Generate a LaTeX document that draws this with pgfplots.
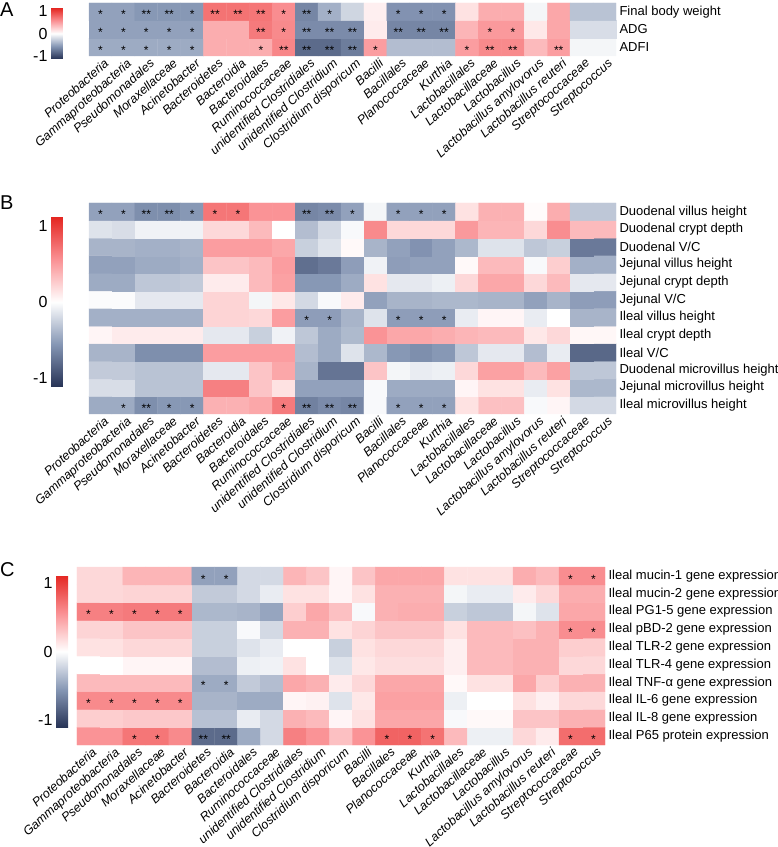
\documentclass[border=0pt]{standalone}
\usepackage{pgfplots}
\pgfplotsset{compat=1.18}
\usepackage{fontspec}
\setmainfont{Liberation Sans}
\usetikzlibrary{calc}
\pgfplotsset{
 colorbar shift/.style={xshift=0pt},
 colormap={hm}{rgb255=(38,50,85) rgb255=(133,150,180) rgb255=(255,255,255) rgb255=(250,145,148) rgb255=(228,38,33)},
 hmaxis/.style={scale only axis, width=527pt, xmin=-0.5, xmax=22.5,
   axis line style={draw=none}, tick style={draw=none}, major tick length=0pt,
   xtick={0,...,22},
   xticklabels={Proteobacteria,Gammaproteobacteria,Pseudomonadales,Moraxellaceae,Acinetobacter,Bacteroidetes,Bacteroidia,Bacteroidales,Ruminococcaceae,unidentified Clostridiales,unidentified Clostridium,Clostridium disporicum,Bacilli,Bacillales,Planococcaceae,Kurthia,Lactobacillales,Lactobacillaceae,Lactobacillus,Lactobacillus amylovorus,Lactobacillus reuteri,Streptococcaceae,Streptococcus},
   xticklabel style={font=\fontsize{12.5}{13}\selectfont\itshape, rotate=42, anchor=north east, inner sep=1pt, xshift=2pt, yshift=-2pt},
   yticklabel pos=right,
   yticklabel style={font=\fontsize{13}{14}\selectfont, anchor=west},
   colormap name=hm, point meta min=-1.12, point meta max=1.12, clip=false},
 cb/.style={scale only axis, width=12pt, anchor=south west,
   ytick={-1,0,1}, yticklabels={-1,0,1}, yticklabel pos=left,
   axis line style={draw=none}, tick style={draw=none}, major tick length=0pt,
   yticklabel style={font=\fontsize{16}{16}\selectfont}},
 hm/.style={matrix plot*, mesh/cols=23, point meta=explicit},
 stars/.style={only marks, mark=none, nodes near coords, point meta=explicit symbolic,
   nodes near coords style={anchor=center, font=\fontsize{12}{12}\selectfont, yshift=-3pt, inner sep=0pt}}
}
\begin{document}
\begin{tikzpicture}
\useasboundingbox (0,0) rectangle (778pt,847pt);
\node[anchor=base west, font=\fontsize{20}{20}\selectfont, inner sep=0pt] at (0pt,830pt) {A};
\node[anchor=base west, font=\fontsize{20}{20}\selectfont, inner sep=0pt] at (0pt,637pt) {B};
\node[anchor=base west, font=\fontsize{20}{20}\selectfont, inner sep=0pt] at (0pt,270pt) {C};

% ---------------- Panel A
\begin{axis}[hmaxis, height=53pt, at={(89pt,791pt)}, anchor=south west,
  ymin=-0.5, ymax=2.5, ytick={0,1,2}, yticklabels={ADFI,ADG,Final body weight},
  colorbar, colorbar style={cb, height=51pt, at={($(parent axis.south west)+(-38pt,-3pt)$)}}]
\addplot[hm] coordinates {
(0,0)[-0.45] (1,0)[-0.45] (2,0)[-0.45] (3,0)[-0.45] (4,0)[-0.45] (5,0)[0.42] (6,0)[0.42] (7,0)[0.42] (8,0)[0.62] (9,0)[-0.8] (10,0)[-0.8] (11,0)[-0.7] (12,0)[0.5] (13,0)[-0.35] (14,0)[-0.35] (15,0)[-0.35] (16,0)[0.5] (17,0)[0.6] (18,0)[0.6] (19,0)[0.35] (20,0)[0.5] (21,0)[-0.05] (22,0)[-0.05]
(0,1)[-0.5] (1,1)[-0.5] (2,1)[-0.5] (3,1)[-0.5] (4,1)[-0.5] (5,1)[0.42] (6,1)[0.42] (7,1)[0.68] (8,1)[0.6] (9,1)[-0.62] (10,1)[-0.62] (11,1)[-0.62] (12,1)[0.1] (13,1)[-0.65] (14,1)[-0.65] (15,1)[-0.65] (16,1)[0.38] (17,1)[0.52] (18,1)[0.52] (19,1)[0.12] (20,1)[0.45] (21,1)[-0.18] (22,1)[-0.18]
(0,2)[-0.5] (1,2)[-0.5] (2,2)[-0.55] (3,2)[-0.55] (4,2)[-0.55] (5,2)[0.72] (6,2)[0.72] (7,2)[0.7] (8,2)[0.58] (9,2)[-0.65] (10,2)[-0.42] (11,2)[-0.22] (12,2)[0.08] (13,2)[-0.58] (14,2)[-0.58] (15,2)[-0.58] (16,2)[0.15] (17,2)[0.42] (18,2)[0.42] (19,2)[-0.05] (20,2)[0.45] (21,2)[-0.32] (22,2)[-0.32]
};
\addplot[stars] coordinates {
(0,2)[*] (1,2)[*] (2,2)[**] (3,2)[**] (4,2)[*] (5,2)[**] (6,2)[**] (7,2)[**] (8,2)[*] (9,2)[**] (10,2)[*] (13,2)[*] (14,2)[*] (15,2)[*]
(0,1)[*] (1,1)[*] (2,1)[*] (3,1)[*] (4,1)[*] (7,1)[**] (8,1)[*] (9,1)[**] (10,1)[**] (11,1)[**] (13,1)[**] (14,1)[**] (15,1)[**] (17,1)[*] (18,1)[*]
(0,0)[*] (1,0)[*] (2,0)[*] (3,0)[*] (4,0)[*] (7,0)[*] (8,0)[**] (9,0)[**] (10,0)[**] (11,0)[**] (12,0)[*] (16,0)[*] (17,0)[**] (18,0)[**] (20,0)[**]
};
\end{axis}

% ---------------- Panel B
\begin{axis}[hmaxis, height=211pt, at={(89pt,433pt)}, anchor=south west,
  ymin=-0.5, ymax=11.5, ytick={0,...,11},
  yticklabels={Ileal microvillus height,Jejunal microvillus height,Duodenal microvillus height,Ileal V/C,Ileal crypt depth,Ileal villus height,Jejunal V/C,Jejunal crypt depth,Jejunal villus height,Duodenal V/C,Duodenal crypt depth,Duodenal villus height},
  colorbar, colorbar style={cb, height=170pt, at={($(parent axis.south west)+(-38pt,27pt)$)}}]
\addplot[hm] coordinates {
(0,0)[-0.45] (1,0)[-0.45] (2,0)[-0.6] (3,0)[-0.55] (4,0)[-0.55] (5,0)[0.4] (6,0)[0.4] (7,0)[0.45] (8,0)[0.68] (9,0)[-0.68] (10,0)[-0.62] (11,0)[-0.65] (12,0)[-0.03] (13,0)[-0.5] (14,0)[-0.5] (15,0)[-0.5] (16,0)[0.15] (17,0)[0.32] (18,0)[0.32] (19,0)[-0.03] (20,0)[0.05] (21,0)[-0.2] (22,0)[-0.2]
(0,1)[-0.18] (1,1)[-0.18] (2,1)[-0.32] (3,1)[-0.32] (4,1)[-0.32] (5,1)[0.65] (6,1)[0.65] (7,1)[0.3] (8,1)[0.15] (9,1)[-0.5] (10,1)[-0.5] (11,1)[-0.5] (12,1)[-0.03] (13,1)[-0.45] (14,1)[-0.45] (15,1)[-0.45] (16,1)[0.05] (17,1)[0.15] (18,1)[0.15] (19,1)[-0.1] (20,1)[0.15] (21,1)[-0.38] (22,1)[-0.38]
(0,2)[-0.28] (1,2)[-0.28] (2,2)[-0.32] (3,2)[-0.32] (4,2)[-0.32] (5,2)[-0.12] (6,2)[-0.12] (7,2)[0.3] (8,2)[0.45] (9,2)[-0.4] (10,2)[-0.75] (11,2)[-0.75] (12,2)[0.3] (13,2)[-0.05] (14,2)[-0.1] (15,2)[-0.08] (16,2)[0.2] (17,2)[0.48] (18,2)[0.48] (19,2)[0.35] (20,2)[0.48] (21,2)[-0.3] (22,2)[-0.3]
(0,3)[-0.4] (1,3)[-0.4] (2,3)[-0.6] (3,3)[-0.6] (4,3)[-0.6] (5,3)[0.5] (6,3)[0.5] (7,3)[0.5] (8,3)[0.5] (9,3)[-0.35] (10,3)[-0.45] (11,3)[-0.15] (12,3)[-0.38] (13,3)[-0.55] (14,3)[-0.6] (15,3)[-0.55] (16,3)[-0.3] (17,3)[-0.12] (18,3)[-0.12] (19,3)[-0.35] (20,3)[-0.1] (21,3)[-0.82] (22,3)[-0.82]
(0,4)[0.05] (1,4)[0.1] (2,4)[0.1] (3,4)[0.1] (4,4)[0.1] (5,4)[-0.12] (6,4)[-0.12] (7,4)[-0.25] (8,4)[-0.07] (9,4)[-0.3] (10,4)[-0.45] (11,4)[-0.37] (12,4)[0.55] (13,4)[0.45] (14,4)[0.45] (15,4)[0.42] (16,4)[0.38] (17,4)[0.35] (18,4)[0.35] (19,4)[0.12] (20,4)[0.2] (21,4)[0.04] (22,4)[0.04]
(0,5)[-0.42] (1,5)[-0.42] (2,5)[-0.42] (3,5)[-0.42] (4,5)[-0.42] (5,5)[0.22] (6,5)[0.22] (7,5)[0.2] (8,5)[0.5] (9,5)[-0.52] (10,5)[-0.52] (11,5)[-0.4] (12,5)[-0.15] (13,5)[-0.52] (14,5)[-0.52] (15,5)[-0.52] (16,5)[-0.1] (17,5)[0.05] (18,5)[0.05] (19,5)[-0.1] (20,5)[0.0] (21,5)[-0.4] (22,5)[-0.4]
(0,6)[-0.02] (1,6)[-0.02] (2,6)[-0.12] (3,6)[-0.12] (4,6)[-0.12] (5,6)[0.22] (6,6)[0.22] (7,6)[-0.05] (8,6)[0.12] (9,6)[-0.2] (10,6)[-0.03] (11,6)[0.1] (12,6)[-0.5] (13,6)[-0.4] (14,6)[-0.4] (15,6)[-0.38] (16,6)[-0.38] (17,6)[-0.4] (18,6)[-0.4] (19,6)[-0.5] (20,6)[-0.4] (21,6)[-0.52] (22,6)[-0.52]
(0,7)[-0.45] (1,7)[-0.45] (2,7)[-0.3] (3,7)[-0.3] (4,7)[-0.28] (5,7)[0.1] (6,7)[0.1] (7,7)[0.35] (8,7)[0.48] (9,7)[-0.55] (10,7)[-0.55] (11,7)[-0.45] (12,7)[0.15] (13,7)[-0.12] (14,7)[-0.12] (15,7)[-0.08] (16,7)[0.2] (17,7)[0.45] (18,7)[0.45] (19,7)[0.2] (20,7)[0.35] (21,7)[-0.12] (22,7)[-0.12]
(0,8)[-0.5] (1,8)[-0.5] (2,8)[-0.45] (3,8)[-0.45] (4,8)[-0.42] (5,8)[0.3] (6,8)[0.3] (7,8)[0.35] (8,8)[0.5] (9,8)[-0.78] (10,8)[-0.72] (11,8)[-0.52] (12,8)[-0.07] (13,8)[-0.52] (14,8)[-0.5] (15,8)[-0.5] (16,8)[0.03] (17,8)[0.35] (18,8)[0.35] (19,8)[-0.03] (20,8)[0.25] (21,8)[-0.42] (22,8)[-0.42]
(0,9)[-0.4] (1,9)[-0.4] (2,9)[-0.42] (3,9)[-0.42] (4,9)[-0.4] (5,9)[0.5] (6,9)[0.5] (7,9)[0.5] (8,9)[0.45] (9,9)[-0.25] (10,9)[-0.15] (11,9)[0.03] (12,9)[-0.4] (13,9)[-0.5] (14,9)[-0.58] (15,9)[-0.5] (16,9)[-0.38] (17,9)[-0.15] (18,9)[-0.15] (19,9)[-0.3] (20,9)[-0.25] (21,9)[-0.72] (22,9)[-0.72]
(0,10)[-0.15] (1,10)[-0.18] (2,10)[-0.07] (3,10)[-0.07] (4,10)[-0.07] (5,10)[0.2] (6,10)[0.2] (7,10)[0.35] (8,10)[0.0] (9,10)[-0.35] (10,10)[-0.2] (11,10)[-0.03] (12,10)[0.6] (13,10)[0.2] (14,10)[0.2] (15,10)[0.2] (16,10)[0.52] (17,10)[0.38] (18,10)[0.38] (19,10)[0.2] (20,10)[0.58] (21,10)[0.35] (22,10)[0.35]
(0,11)[-0.5] (1,11)[-0.5] (2,11)[-0.6] (3,11)[-0.6] (4,11)[-0.55] (5,11)[0.7] (6,11)[0.7] (7,11)[0.55] (8,11)[0.55] (9,11)[-0.65] (10,11)[-0.62] (11,11)[-0.5] (12,11)[-0.05] (13,11)[-0.5] (14,11)[-0.5] (15,11)[-0.5] (16,11)[0.15] (17,11)[0.4] (18,11)[0.4] (19,11)[0.02] (20,11)[0.42] (21,11)[-0.3] (22,11)[-0.3]
};
\addplot[stars] coordinates {
(0,11)[*] (1,11)[*] (2,11)[**] (3,11)[**] (4,11)[*] (5,11)[*] (6,11)[*] (9,11)[**] (10,11)[**] (11,11)[*] (13,11)[*] (14,11)[*] (15,11)[*]
(9,5)[*] (10,5)[*] (13,5)[*] (14,5)[*] (15,5)[*]
(1,0)[*] (2,0)[**] (3,0)[*] (4,0)[*] (8,0)[*] (9,0)[**] (10,0)[**] (11,0)[**] (13,0)[*] (14,0)[*] (15,0)[*]
};
\end{axis}

% ---------------- Panel C
\begin{axis}[hmaxis, width=528pt, height=178pt, at={(77pt,102pt)}, anchor=south west,
  ymin=-0.5, ymax=9.5, ytick={0,...,9},
  yticklabels={Ileal P65 protein expression,Ileal IL-8 gene expression,Ileal IL-6 gene expression,Ileal TNF-α gene expression,Ileal TLR-4 gene expression,Ileal TLR-2 gene expression,Ileal pBD-2 gene expression,Ileal PG1-5 gene expression,Ileal mucin-2 gene expression,Ileal mucin-1 gene expression},
  colorbar, colorbar style={cb, height=153pt, at={($(parent axis.south west)+(-21pt,17pt)$)}}]
\addplot[hm] coordinates {
(0,0)[0.55] (1,0)[0.55] (2,0)[0.7] (3,0)[0.7] (4,0)[0.6] (5,0)[-0.8] (6,0)[-0.8] (7,0)[-0.45] (8,0)[-0.2] (9,0)[0.65] (10,0)[0.55] (11,0)[0.32] (12,0)[0.55] (13,0)[0.8] (14,0)[0.8] (15,0)[0.72] (16,0)[0.35] (17,0)[-0.08] (18,0)[-0.08] (19,0)[0.2] (20,0)[0.1] (21,0)[0.75] (22,0)[0.75]
(0,1)[0.25] (1,1)[0.25] (2,1)[0.28] (3,1)[0.28] (4,1)[0.28] (5,1)[-0.33] (6,1)[-0.33] (7,1)[-0.1] (8,1)[-0.2] (9,1)[0.4] (10,1)[0.35] (11,1)[0.05] (12,1)[0.15] (13,1)[0.45] (14,1)[0.45] (15,1)[0.45] (16,1)[-0.03] (17,1)[0.03] (18,1)[0.03] (19,1)[0.3] (20,1)[0.3] (21,1)[0.4] (22,1)[0.4]
(0,2)[0.6] (1,2)[0.6] (2,2)[0.6] (3,2)[0.6] (4,2)[0.6] (5,2)[-0.4] (6,2)[-0.4] (7,2)[-0.45] (8,2)[-0.45] (9,2)[0.05] (10,2)[0.07] (11,2)[-0.15] (12,2)[0.12] (13,2)[0.48] (14,2)[0.48] (15,2)[0.48] (16,2)[-0.08] (17,2)[0.0] (18,2)[0.0] (19,2)[0.15] (20,2)[0.08] (21,2)[0.2] (22,2)[0.2]
(0,3)[0.35] (1,3)[0.35] (2,3)[0.35] (3,3)[0.35] (4,3)[0.35] (5,3)[-0.45] (6,3)[-0.45] (7,3)[-0.28] (8,3)[-0.35] (9,3)[0.45] (10,3)[0.4] (11,3)[0.1] (12,3)[0.2] (13,3)[0.45] (14,3)[0.45] (15,3)[0.45] (16,3)[0.03] (17,3)[0.15] (18,3)[0.15] (19,3)[0.45] (20,3)[0.25] (21,3)[0.4] (22,3)[0.4]
(0,4)[0.0] (1,4)[0.0] (2,4)[0.05] (3,4)[0.05] (4,4)[0.05] (5,4)[-0.35] (6,4)[-0.35] (7,4)[-0.08] (8,4)[-0.07] (9,4)[0.15] (10,4)[0.0] (11,4)[-0.15] (12,4)[0.12] (13,4)[0.17] (14,4)[0.17] (15,4)[0.17] (16,4)[0.08] (17,4)[0.35] (18,4)[0.35] (19,4)[0.4] (20,4)[0.4] (21,4)[0.2] (22,4)[0.2]
(0,5)[0.15] (1,5)[0.15] (2,5)[0.2] (3,5)[0.2] (4,5)[0.2] (5,5)[-0.25] (6,5)[-0.25] (7,5)[-0.15] (8,5)[-0.1] (9,5)[0.0] (10,5)[0.0] (11,5)[-0.25] (12,5)[0.15] (13,5)[0.2] (14,5)[0.2] (15,5)[0.2] (16,5)[0.08] (17,5)[0.35] (18,5)[0.35] (19,5)[0.4] (20,5)[0.4] (21,5)[0.25] (22,5)[0.25]
(0,6)[0.22] (1,6)[0.22] (2,6)[0.3] (3,6)[0.3] (4,6)[0.3] (5,6)[-0.25] (6,6)[-0.25] (7,6)[-0.03] (8,6)[-0.2] (9,6)[0.4] (10,6)[0.4] (11,6)[0.15] (12,6)[0.22] (13,6)[0.3] (14,6)[0.3] (15,6)[0.3] (16,6)[0.15] (17,6)[0.35] (18,6)[0.35] (19,6)[0.32] (20,6)[0.4] (21,6)[0.58] (22,6)[0.58]
(0,7)[0.65] (1,7)[0.65] (2,7)[0.68] (3,7)[0.68] (4,7)[0.68] (5,7)[-0.38] (6,7)[-0.38] (7,7)[-0.4] (8,7)[-0.48] (9,7)[0.25] (10,7)[0.45] (11,7)[0.32] (12,7)[-0.03] (13,7)[0.4] (14,7)[0.42] (15,7)[0.42] (16,7)[-0.25] (17,7)[-0.3] (18,7)[-0.3] (19,7)[-0.05] (20,7)[-0.15] (21,7)[0.45] (22,7)[0.45]
(0,8)[0.2] (1,8)[0.2] (2,8)[0.22] (3,8)[0.22] (4,8)[0.22] (5,8)[-0.28] (6,8)[-0.28] (7,8)[-0.2] (8,8)[-0.1] (9,8)[0.15] (10,8)[0.15] (11,8)[0.05] (12,8)[0.15] (13,8)[0.4] (14,8)[0.4] (15,8)[0.4] (16,8)[-0.05] (17,8)[-0.1] (18,8)[-0.1] (19,8)[0.1] (20,8)[0.2] (21,8)[0.42] (22,8)[0.42]
(0,9)[0.2] (1,9)[0.2] (2,9)[0.38] (3,9)[0.38] (4,9)[0.38] (5,9)[-0.5] (6,9)[-0.5] (7,9)[-0.2] (8,9)[-0.2] (9,9)[0.38] (10,9)[0.3] (11,9)[0.05] (12,9)[0.3] (13,9)[0.45] (14,9)[0.45] (15,9)[0.45] (16,9)[0.15] (17,9)[0.15] (18,9)[0.15] (19,9)[0.42] (20,9)[0.35] (21,9)[0.58] (22,9)[0.58]
};
\addplot[stars] coordinates {
(5,9)[*] (6,9)[*] (21,9)[*] (22,9)[*]
(0,7)[*] (1,7)[*] (2,7)[*] (3,7)[*] (4,7)[*]
(21,6)[*] (22,6)[*]
(5,3)[*] (6,3)[*]
(0,2)[*] (1,2)[*] (2,2)[*] (3,2)[*] (4,2)[*]
(2,0)[*] (3,0)[*] (5,0)[**] (6,0)[**] (13,0)[*] (14,0)[*] (15,0)[*] (21,0)[*] (22,0)[*]
};
\end{axis}
\end{tikzpicture}
\end{document}
